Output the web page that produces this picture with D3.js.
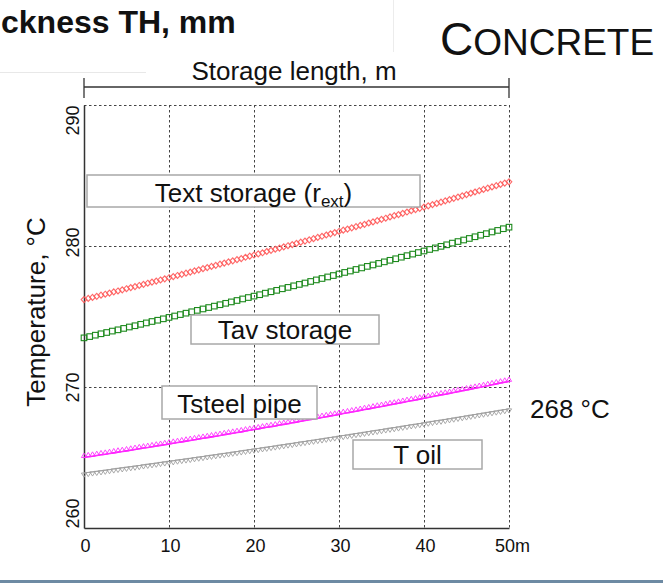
<!DOCTYPE html>
<html>
<head>
<meta charset="utf-8">
<script src="https://cdn.jsdelivr.net/npm/d3@7"></script>
<style>
  html, body { margin: 0; padding: 0; background: #fff; }
  svg { display: block; font-family: "Liberation Sans", Arial, sans-serif; }
</style>
</head>
<body>
<svg id="chart" width="663" height="583"></svg>
<script>
// Temperature profiles along the concrete storage (°C), sampled along the length
const tExtStorage = [
  276.20,276.28,276.35,276.43,276.51,276.58,276.66,276.74,276.81,276.89,
  276.97,277.05,277.12,277.20,277.28,277.36,277.44,277.51,277.59,277.67,
  277.75,277.83,277.91,277.99,278.07,278.15,278.23,278.31,278.39,278.47,
  278.55,278.63,278.71,278.79,278.87,278.95,279.03,279.11,279.20,279.28,
  279.36,279.44,279.52,279.61,279.69,279.77,279.85,279.94,280.02,280.10,
  280.19,280.27,280.35,280.44,280.52,280.61,280.69,280.78,280.86,280.95,
  281.03,281.12,281.20,281.29,281.37,281.46,281.54,281.63,281.71,281.80,
  281.89,281.97,282.06,282.15,282.23,282.32,282.41,282.50,282.58,282.67,
  282.76,282.85,282.94,283.02,283.11,283.20,283.29,283.38,283.47,283.56,
  283.65,283.74,283.83,283.92,284.01,284.10,284.19,284.28,284.37,284.46,
  284.55
];
const tAvStorage = [
  273.45,273.54,273.64,273.74,273.83,273.93,274.02,274.12,274.22,274.31,
  274.41,274.51,274.61,274.70,274.80,274.90,275.00,275.10,275.20,275.30,
  275.40,275.50,275.60,275.70,275.80,275.90,276.00,276.10,276.21,276.31,
  276.41,276.51,276.62,276.72,276.82,276.93,277.03,277.14,277.24,277.34,
  277.45,277.56,277.66,277.77,277.87,277.98,278.09,278.19,278.30,278.41,
  278.52,278.62,278.73,278.84,278.95,279.06,279.17,279.28,279.39,279.50,
  279.61,279.72,279.83,279.94,280.05,280.17,280.28,280.39,280.50,280.62,
  280.73,280.84,280.96,281.07,281.19,281.30
];
const tSteelPipe = [
  265.00,265.05,265.09,265.14,265.19,265.23,265.28,265.33,265.38,265.42,
  265.47,265.52,265.57,265.62,265.67,265.71,265.76,265.81,265.86,265.91,
  265.96,266.01,266.06,266.11,266.16,266.21,266.26,266.31,266.36,266.41,
  266.46,266.51,266.56,266.62,266.67,266.72,266.77,266.82,266.88,266.93,
  266.98,267.03,267.09,267.14,267.19,267.24,267.30,267.35,267.40,267.46,
  267.51,267.57,267.62,267.68,267.73,267.78,267.84,267.89,267.95,268.00,
  268.06,268.12,268.17,268.23,268.28,268.34,268.40,268.45,268.51,268.57,
  268.62,268.68,268.74,268.79,268.85,268.91,268.97,269.03,269.08,269.14,
  269.20,269.26,269.32,269.38,269.44,269.49,269.55,269.61,269.67,269.73,
  269.79,269.85,269.91,269.97,270.03,270.09,270.16,270.22,270.28,270.34,
  270.40
];
const tOil = [
  263.90,263.94,263.98,264.02,264.06,264.10,264.14,264.19,264.23,264.27,
  264.31,264.35,264.39,264.43,264.48,264.52,264.56,264.60,264.65,264.69,
  264.73,264.77,264.82,264.86,264.90,264.94,264.99,265.03,265.07,265.12,
  265.16,265.20,265.25,265.29,265.33,265.38,265.42,265.47,265.51,265.56,
  265.60,265.64,265.69,265.73,265.78,265.82,265.87,265.91,265.96,266.00,
  266.05,266.10,266.14,266.19,266.23,266.28,266.32,266.37,266.42,266.46,
  266.51,266.56,266.60,266.65,266.70,266.74,266.79,266.84,266.89,266.93,
  266.98,267.03,267.08,267.12,267.17,267.22,267.27,267.32,267.36,267.41,
  267.46,267.51,267.56,267.61,267.65,267.70,267.75,267.80,267.85,267.90,
  267.95,268.00,268.05,268.10,268.15,268.20,268.25,268.30,268.35,268.40,
  268.45
];

const storageLength = 50;               // m
const xTicks = [0, 10, 20, 30, 40, 50];
const xTickLabels = ["0", "10", "20", "30", "40", "50m"];
const yTicks = [260, 270, 280, 290];
const oilOutletLabel = "268 °C";

// ---- layout ----
const svg = d3.select("#chart");
const plot = { left: 84, right: 509, top: 105, bottom: 528 };
const x = d3.scaleLinear().domain([0, storageLength]).range([plot.left, plot.right]);
const y = d3.scaleLinear().domain([260, 290]).range([plot.bottom, plot.top]);

// pair each profile with its position along the storage
const alongLength = vals => vals.map((v, i) => ({ d: i * storageLength / (vals.length - 1), t: v }));

// faint slide guide lines
svg.append("line").attr("x1", 0).attr("x2", 146).attr("y1", 72.5).attr("y2", 72.5)
  .attr("stroke", "#e8e8e8").attr("stroke-width", 1);
svg.append("line").attr("x1", 393.5).attr("x2", 393.5).attr("y1", 0).attr("y2", 52)
  .attr("stroke", "#ececec").attr("stroke-width", 1);

// slide heading, tail end only
svg.append("text").attr("x", 1).attr("y", 33)
  .attr("font-size", 32).attr("font-weight", "bold").attr("fill", "#111")
  .text("ckness TH, mm");

const concrete = svg.append("text").attr("x", 440).attr("y", 55).attr("fill", "#111");
concrete.append("tspan").attr("font-size", 46).text("C");
concrete.append("tspan").attr("font-size", 37).text("ONCRETE");

// length bracket above the plot
svg.append("line").attr("x1", x(0)).attr("x2", x(storageLength)).attr("y1", 87).attr("y2", 87)
  .attr("stroke", "#333").attr("stroke-width", 1.3);
[0, storageLength].forEach(v => {
  svg.append("line").attr("x1", x(v)).attr("x2", x(v)).attr("y1", 78).attr("y2", 98)
    .attr("stroke", "#333").attr("stroke-width", 1.3);
});
svg.append("text").attr("x", 294).attr("y", 80).attr("text-anchor", "middle")
  .attr("font-size", 26).attr("fill", "#111").text("Storage length, m");

// dashed grid, including the open top and right edges
const grid = svg.append("g").attr("stroke", "#444").attr("stroke-width", 1)
  .attr("stroke-dasharray", "2.5,2.5");
xTicks.filter(v => v > 0).forEach(v => {
  grid.append("line").attr("x1", x(v) + 0.5).attr("x2", x(v) + 0.5)
    .attr("y1", y(290)).attr("y2", y(260));
});
yTicks.filter(v => v > 260).forEach(v => {
  grid.append("line").attr("x1", x(0)).attr("x2", x(storageLength))
    .attr("y1", y(v) + 0.5).attr("y2", y(v) + 0.5);
});

// solid left and bottom axes
const xAxis = d3.axisBottom(x).tickValues(xTicks)
  .tickFormat((d, i) => xTickLabels[i]).tickSize(0);
const gx = svg.append("g").attr("transform", `translate(0,${plot.bottom})`).call(xAxis);
gx.select(".domain").attr("stroke", "#333").attr("stroke-width", 1.5);
gx.selectAll("text").attr("y", 24).attr("dy", null).attr("font-size", 18)
  .attr("font-family", "Liberation Sans, Arial, sans-serif").attr("fill", "#111")
  .attr("dx", (d, i) => (i === xTicks.length - 1 ? 3 : 1));

const yAxis = d3.axisLeft(y).tickValues(yTicks).tickSize(0);
const gy = svg.append("g").attr("transform", `translate(${plot.left},0)`).call(yAxis);
gy.select(".domain").attr("stroke", "#333").attr("stroke-width", 1.5);
const yAnchor = { 260: "start", 270: "middle", 280: "middle", 290: "end" };
const yShift = { 260: 0, 270: 0, 280: 4, 290: 0 };
gy.selectAll("text")
  .attr("transform", "rotate(-90)")
  .attr("x", d => yShift[d]).attr("y", -5).attr("dy", null)
  .attr("text-anchor", d => yAnchor[d])
  .attr("font-size", 18).attr("font-family", "Liberation Sans, Arial, sans-serif")
  .attr("fill", "#111");

svg.append("text").attr("transform", "translate(45,312) rotate(-90)")
  .attr("text-anchor", "middle").attr("font-size", 26).attr("fill", "#111")
  .text("Temperature, °C");

// ---- profiles ----
const line = d3.line().x(p => x(p.d)).y(p => y(p.t));

// external storage temperature: red open diamonds
svg.append("g").selectAll("path").data(alongLength(tExtStorage)).join("path")
  .attr("transform", p => `translate(${x(p.d)},${y(p.t)})`)
  .attr("d", "M0,-3L2.8,0L0,3L-2.8,0Z")
  .attr("fill", "none").attr("stroke", "#ff5a5a").attr("stroke-width", 1.15)
  .attr("stroke-opacity", 0.9);

// mean storage temperature: green open squares
svg.append("g").selectAll("rect").data(alongLength(tAvStorage)).join("rect")
  .attr("x", p => x(p.d) - 2.8).attr("y", p => y(p.t) - 3.3)
  .attr("width", 5.6).attr("height", 5.6)
  .attr("fill", "none").attr("stroke", "#1d8a1d").attr("stroke-width", 1.1);

// steel pipe temperature: magenta line with upward triangles
const pipe = alongLength(tSteelPipe);
svg.append("path").datum(pipe).attr("d", line)
  .attr("fill", "none").attr("stroke", "#ff00ff").attr("stroke-width", 1.6);
svg.append("g").selectAll("path").data(pipe).join("path")
  .attr("transform", p => `translate(${x(p.d)},${y(p.t)})`)
  .attr("d", "M-2.6,0L0,-4.4L2.6,0Z")
  .attr("fill", "none").attr("stroke", "#ff33ff").attr("stroke-width", 0.9);

// oil temperature: grey line with downward triangles
const oil = alongLength(tOil);
svg.append("path").datum(oil).attr("d", line)
  .attr("fill", "none").attr("stroke", "#9a9a9a").attr("stroke-width", 1);
svg.append("g").selectAll("path").data(oil).join("path")
  .attr("transform", p => `translate(${x(p.d)},${y(p.t)})`)
  .attr("d", "M-2.6,0L0,4.2L2.6,0Z")
  .attr("fill", "none").attr("stroke", "#a0a0a0").attr("stroke-width", 0.9);

// ---- curve labels in boxes ----
const boxes = [
  { x0: 87, x1: 420, y0: 175, y1: 207, base: 202, text: "ext" },
  { x0: 191, x1: 379, y0: 315, y1: 344, base: 339, text: "Tav storage" },
  { x0: 162, x1: 317, y0: 386, y1: 419, base: 413, text: "Tsteel pipe" },
  { x0: 353, x1: 482, y0: 440, y1: 469, base: 464, text: "T oil" }
];
boxes.forEach(b => {
  svg.append("rect").attr("x", b.x0).attr("y", b.y0)
    .attr("width", b.x1 - b.x0).attr("height", b.y1 - b.y0)
    .attr("fill", "#fff").attr("stroke", "#a8a8a8").attr("stroke-width", 1.5);
  const t = svg.append("text").attr("x", (b.x0 + b.x1) / 2).attr("y", b.base)
    .attr("text-anchor", "middle").attr("font-size", 26).attr("fill", "#111");
  if (b.text === "ext") {
    t.append("tspan").text("Text storage (r");
    t.append("tspan").attr("font-size", 17).attr("dy", 5).text("ext");
    t.append("tspan").attr("dy", -5).text(")");
  } else {
    t.text(b.text);
  }
});

svg.append("text").attr("x", 530).attr("y", 418).attr("font-size", 26)
  .attr("fill", "#111").text(oilOutletLabel);

// slide footer strip
svg.append("rect").attr("x", 0).attr("y", 580).attr("width", 663).attr("height", 3)
  .attr("fill", "#6d8aa3");
</script>
</body>
</html>
